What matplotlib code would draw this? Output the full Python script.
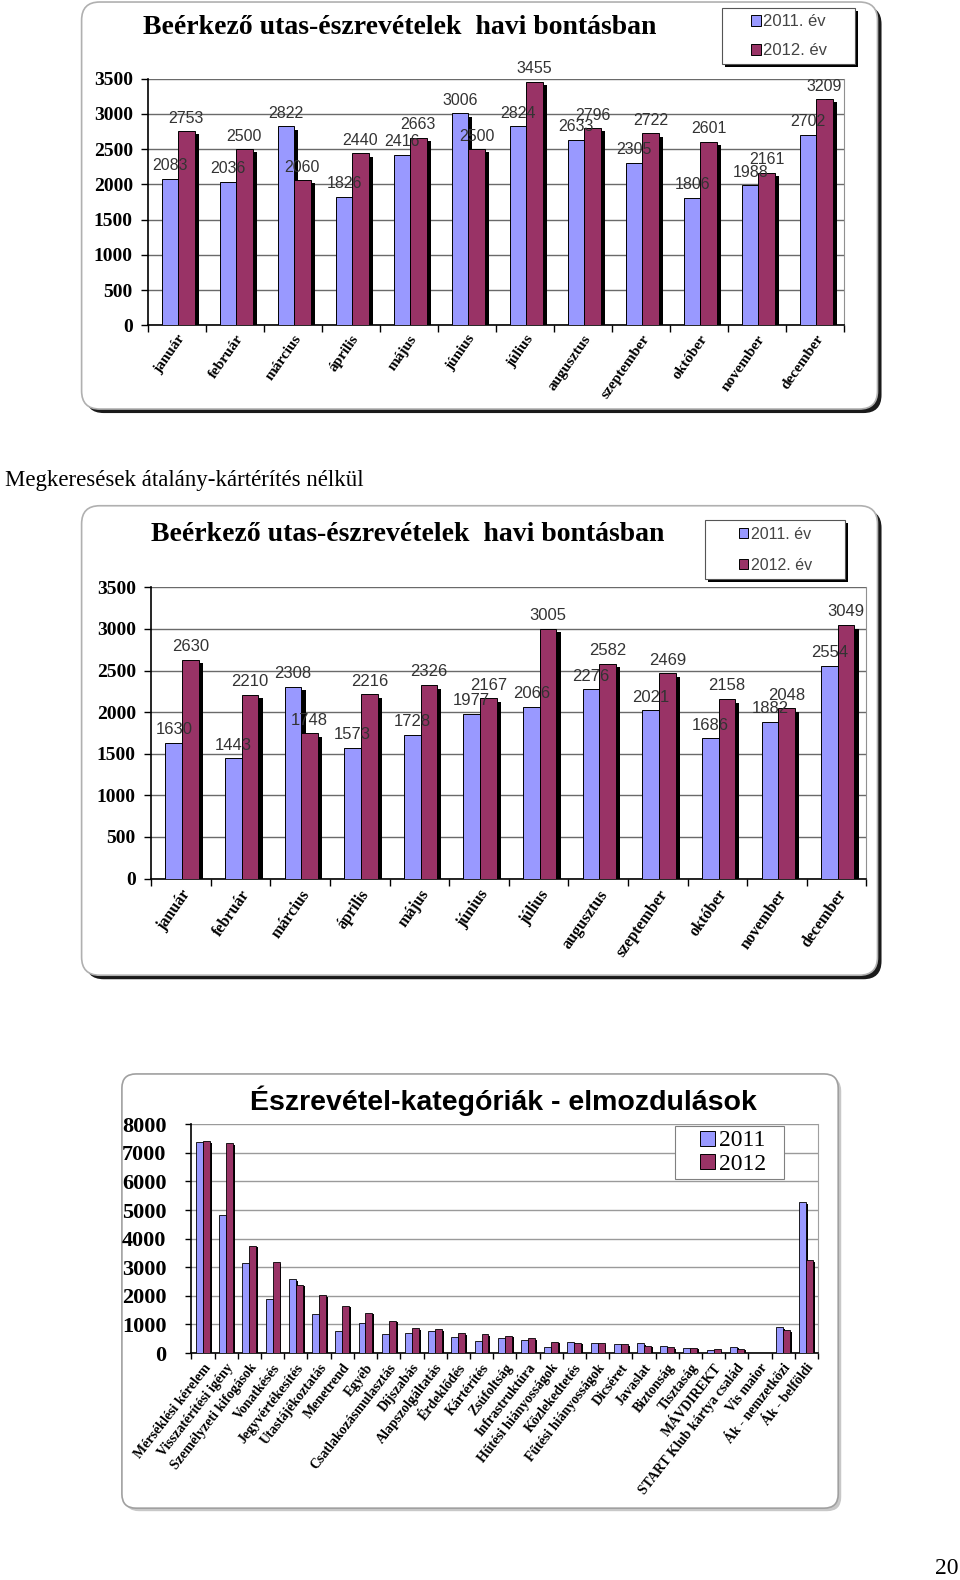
import matplotlib
matplotlib.use('Agg')
import matplotlib.pyplot as plt
import numpy as np
from matplotlib.patches import FancyBboxPatch, Rectangle, Patch

months = ['január', 'február', 'március', 'április', 'május', 'június',
          'július', 'augusztus', 'szeptember', 'október', 'november', 'december']
c1_2011 = [2083, 2036, 2822, 1826, 2416, 3006, 2824, 2633, 2305, 1806, 1988, 2702]
c1_2012 = [2753, 2500, 2060, 2440, 2663, 2500, 3455, 2796, 2722, 2601, 2161, 3209]
c2_2011 = [1630, 1443, 2308, 1573, 1728, 1977, 2066, 2276, 2021, 1686, 1882, 2554]
c2_2012 = [2630, 2210, 1748, 2216, 2326, 2167, 3005, 2582, 2469, 2158, 2048, 3049]

categories = ['Mérséklési kérelem', 'Visszatérítési igény', 'Személyzeti kifogások',
              'Vonatkésés', 'Jegyvértékesítés', 'Utastájékoztatás', 'Menetrend', 'Egyéb',
              'Csatlakozásmulasztás', 'Díjszabás', 'Alapszolgáltatás', 'Érdeklődés',
              'Kártérítés', 'Zsúfoltság', 'Infrastruktúra', 'Hűtési hiányosságok',
              'Közlekedtetés', 'Fűtési hiányosságok', 'Dicséret', 'Javaslat', 'Biztonság',
              'Tisztaság', 'MÁVDIREKT', 'START Klub kártya család', 'Vis maior',
              'Ák - nemzetközi', 'Ák - belföldi']
c3_2011 = [7380, 4820, 3150, 1880, 2590, 1380, 780, 1035, 660, 700, 780, 550, 420, 540,
           450, 220, 395, 335, 315, 335, 245, 160, 105, 220, 0, 895, 5270]
c3_2012 = [7410, 7340, 3760, 3170, 2390, 2030, 1655, 1410, 1130, 870, 825, 705, 660, 605,
           510, 395, 360, 335, 315, 255, 200, 185, 125, 150, 0, 802, 3240]

legend1 = ['2011. év', '2012. év']
legend3 = ['2011', '2012']

BLUE = '#9999FF'
MAROON = '#993366'
S = 0.9926
W, H = 960 * S, 1580 * S
SERIF = ['Liberation Serif', 'DejaVu Serif']
SANS = ['Liberation Sans', 'DejaVu Sans']

fig = plt.figure(figsize=(9.6, 15.8), dpi=100)
bg = fig.add_axes([0, 0, 1, 1], zorder=0)
bg.set_xlim(0, W)
bg.set_ylim(H, 0)
bg.axis('off')


def fx(px):
    return px / W


def fy(py):
    return 1 - py / H


def frame(x0, y0, x1, y1, shadow_col, ec, r=18, off=4):
    bg.add_patch(FancyBboxPatch((x0 + off, y0 + off), x1 - x0, y1 - y0,
                                boxstyle=f'round,pad=0,rounding_size={r}',
                                fc=shadow_col, ec='none'))
    bg.add_patch(FancyBboxPatch((x0, y0), x1 - x0, y1 - y0,
                                boxstyle=f'round,pad=0,rounding_size={r}',
                                fc='white', ec=ec, lw=1.2))


def legbox(x0, y0, x1, y1):
    bg.add_patch(Rectangle((x0 + 3, y0 + 3), x1 - x0, y1 - y0, fc='black', ec='none'))
    bg.add_patch(Rectangle((x0, y0), x1 - x0, y1 - y0, fc='white', ec='#555555', lw=0.8))


def monthly(rect, v11, v12, title_xy, box, lbox, ls, xfs, lblfs, legfs, xpad):
    frame(*box, shadow_col='#1a1a1a', ec='#b0b0b0')
    legbox(*lbox)
    bg.text(title_xy[0], title_xy[1], 'Beérkező utas-észrevételek  havi bontásban',
            family=SERIF, fontweight='bold', fontsize=20, ha='center', va='center')
    ax = fig.add_axes(rect, zorder=1)
    ax.set_facecolor('none')
    x = np.arange(len(months))
    w = 0.28
    dx = 0.07
    dy = 45
    for off, vals, col in ((-w / 2 + 0.02, v11, BLUE), (w / 2 + 0.02, v12, MAROON)):
        vals = np.array(vals)
        ax.bar(x + off + dx, np.maximum(vals - dy, 0), w, color='black', zorder=2)
        ax.bar(x + off, vals, w, color=col, edgecolor='black', linewidth=0.7, zorder=3)
        for xi, v in zip(x + off, vals):
            ax.annotate(str(v), (xi, v), xytext=(0, 4), textcoords='offset points',
                        ha='center', va='bottom', fontsize=lblfs, family=SANS,
                        color='#333333', zorder=4, annotation_clip=False)
    ax.set_xlim(-0.5, len(months) - 0.5)
    ax.set_ylim(0, 3500)
    ax.set_yticks(np.arange(0, 3501, 500))
    ax.yaxis.grid(True, color='#6a6a6a', lw=1.0, zorder=0)
    ax.set_axisbelow(True)
    ax.set_xticks(x)
    ax.set_xticklabels(months, rotation=55, ha='right', rotation_mode='anchor',
                       family=SERIF, fontweight='bold', fontsize=xfs)
    ax.set_xticks(np.arange(-0.5, len(months)), minor=True)
    ax.tick_params(axis='x', which='major', length=0, pad=xpad)
    ax.tick_params(axis='x', which='minor', length=5, width=1, direction='out')
    ax.tick_params(axis='y', length=5, width=1, direction='out', pad=6)
    for lab in ax.get_yticklabels():
        lab.set_family(SERIF)
        lab.set_fontweight('bold')
        lab.set_fontsize(14)
    for s in ('left', 'bottom'):
        ax.spines[s].set_color('black')
        ax.spines[s].set_linewidth(1.2)
    ax.spines['top'].set_visible(False)
    ax.spines['right'].set_color('#909090')
    handles = [Patch(facecolor=BLUE, edgecolor='black', lw=0.7),
               Patch(facecolor=MAROON, edgecolor='black', lw=0.7)]
    cx = (lbox[0] + lbox[2]) / 2
    cy = (lbox[1] + lbox[3]) / 2
    ax.legend(handles, legend1, loc='center', bbox_to_anchor=(fx(cx), fy(cy)),
              bbox_transform=fig.transFigure, frameon=False,
              prop={'family': SANS, 'size': legfs}, labelcolor='#444444',
              handlelength=0.6, handleheight=0.6, handletextpad=0.15,
              labelspacing=ls, borderpad=0)
    return ax


# Chart 1
monthly([fx(147), fy(323), fx(838) - fx(147), (323 - 78) / H],
        c1_2011, c1_2012, (397, 27), (81, 2, 871, 406), (717, 8, 849, 64),
        0.85, 11, 11.5, 12, 5)

bg.text(5, 477, 'Megkeresések átalány-kártérítés nélkül', family=SERIF, fontsize=16.5,
        ha='left', va='center')

# Chart 2
monthly([fx(150), fy(872), fx(860) - fx(150), (872 - 583) / H],
        c2_2011, c2_2012, (405, 531), (81, 502, 871, 968), (700, 516, 839, 575),
        1.0, 11.5, 12, 11.5, 6)

# Chart 3
frame(121, 1066, 832, 1497, shadow_col='#c8c8c8', ec='#a0a0a0', r=14, off=3)
bg.text(500, 1093, 'Észrevétel-kategóriák - elmozdulások', family=SANS,
        fontweight='bold', fontsize=20.5, ha='center', va='center')
ax3 = fig.add_axes([fx(190), fy(1343), fx(812) - fx(190), (1343 - 1116) / H], zorder=1)
ax3.set_facecolor('none')
x3 = np.arange(len(categories))
w3 = 0.30
dx3 = 0.08
dy3 = 60
for off, vals, col in ((-w3 / 2, c3_2011, BLUE), (w3 / 2, c3_2012, MAROON)):
    vals = np.array(vals)
    ax3.bar(x3 + off + dx3, np.where(vals > 0, np.maximum(vals - dy3, 0), 0), w3,
            color='black', zorder=2)
    ax3.bar(x3 + off, vals, w3, color=col, edgecolor='black', linewidth=0.6, zorder=3)
ax3.set_xlim(-0.5, len(categories) - 0.5)
ax3.set_ylim(0, 8000)
ax3.set_yticks(np.arange(0, 8001, 1000))
ax3.yaxis.grid(True, color='#9a9a9a', lw=1.0, zorder=0)
ax3.set_axisbelow(True)
ax3.set_xticks(x3)
ax3.set_xticklabels(categories, rotation=52, ha='right', rotation_mode='anchor',
                    family=SERIF, fontweight='bold', fontsize=10)
ax3.set_xticks(np.arange(-0.5, len(categories)), minor=True)
ax3.tick_params(axis='x', which='major', length=0, pad=6)
ax3.tick_params(axis='x', which='minor', length=4, width=1, direction='out')
ax3.tick_params(axis='y', length=4, width=1, direction='out', pad=14)
for lab in ax3.get_yticklabels():
    lab.set_family(SERIF)
    lab.set_fontweight('bold')
    lab.set_fontsize(16)
for s in ('left', 'bottom'):
    ax3.spines[s].set_color('black')
    ax3.spines[s].set_linewidth(1.2)
ax3.spines['top'].set_visible(False)
ax3.spines['right'].set_color('#a0a0a0')

lb3 = (670, 1118, 778, 1170)
ax3.add_patch(Rectangle((fx(lb3[0]), fy(lb3[3])), fx(lb3[2]) - fx(lb3[0]),
                        (lb3[3] - lb3[1]) / H, transform=fig.transFigure,
                        fc='white', ec='#808080', lw=0.8, zorder=4, clip_on=False))
h3 = [Patch(facecolor=BLUE, edgecolor='black', lw=0.7),
      Patch(facecolor=MAROON, edgecolor='black', lw=0.7)]
leg3 = ax3.legend(h3, legend3, loc='center',
                  bbox_to_anchor=(fx((lb3[0] + lb3[2]) / 2 + 4), fy((lb3[1] + lb3[3]) / 2)),
                  bbox_transform=fig.transFigure, frameon=False,
                  prop={'family': SERIF, 'size': 17}, handlelength=0.6, handleheight=0.6,
                  handletextpad=0.2, labelspacing=0.1, borderpad=0)
leg3.set_zorder(5)

bg.text(940, 1557, '20', family=SERIF, fontsize=17, ha='center', va='center')

fig.savefig('out.png', dpi=100)
